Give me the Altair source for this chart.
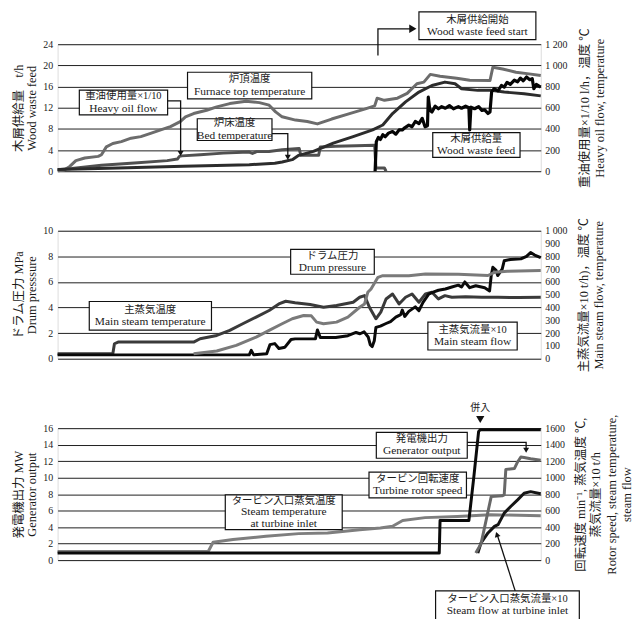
import altair as alt
import pandas as pd

# ---------------- data (hours, values) ----------------
# Panel 1 : wood waste feed (t/h, left axis)
wood_t = [7.97, 8.0, 8.05, 8.1, 8.16, 8.22, 8.3, 8.4, 8.48, 8.56, 8.64, 8.7, 8.8, 8.88, 8.96, 9.05,
          9.13, 9.2, 9.26, 9.28, 9.32, 9.37, 9.45, 9.53, 9.61, 9.7, 9.8, 9.9, 10.02, 10.1, 10.2,
          10.28, 10.3, 10.33, 10.42, 10.52, 10.6, 10.67, 10.75, 10.8, 10.84, 10.9, 11.0, 11.08,
          11.15, 11.22, 11.3, 11.4, 11.48, 11.55, 11.62, 11.7, 11.78, 11.84, 11.88, 11.94, 12.05]
wood_v = [0.0, 5.6, 6.4, 6.0, 6.9, 6.5, 7.2, 7.5, 7.0, 7.8, 7.8, 8.2, 8.7, 8.4, 9.4, 9.0,
          10.0, 8.4, 8.6, 14.0, 11.5, 11.2, 12.3, 11.8, 12.2, 11.9, 12.4, 11.8, 12.2, 11.9, 12.3,
          12.0, 7.8, 12.1, 11.8, 12.2, 11.5, 11.6, 10.9, 11.2, 15.0, 15.6, 15.2, 16.2,
          15.9, 16.8, 16.4, 17.2, 16.9, 17.6, 17.1, 17.8, 17.3, 17.5, 15.6, 16.4, 15.9]
# furnace top temperature (deg C, right axis)
furn_t = [0.15, 0.3, 0.45, 0.6, 0.82, 1.15, 1.23, 1.35, 1.51, 1.72, 1.96, 2.2, 2.44, 2.69, 2.93,
          3.17, 3.3, 3.5, 3.82, 4.07, 4.39, 4.79, 5.12, 5.36, 5.52, 5.68, 6.01, 6.3, 6.55, 6.9,
          7.3, 7.71, 7.96, 8.02, 8.2, 8.52, 8.76, 9.0, 9.17, 9.33, 9.57, 9.98, 10.3, 10.8, 10.87,
          11.11, 11.44, 11.76, 12.05]
furn_v = [5, 10, 45, 100, 125, 140, 156, 230, 262, 280, 312, 327, 358, 390, 421,
          468, 514, 545, 576, 608, 639, 661, 648, 624, 561, 514, 483, 470, 447, 493,
          540, 586, 617, 690, 670, 690, 735, 826, 842, 915, 898, 879, 860, 857, 982,
          966, 935, 920, 905]
# bed temperature (deg C, right axis)
bed_t = [0.15, 1.64, 3.25, 4.87, 5.5, 5.68, 5.93, 6.09, 6.45, 6.94, 7.43, 7.91, 8.16, 8.4, 8.72,
         9.05, 9.37, 9.69, 9.94, 10.1, 10.5, 10.83, 11.15, 11.64, 12.05]
bed_v = [16, 31, 47, 62, 75, 87, 109, 150, 187, 265, 327, 390, 437, 545, 655,
         748, 810, 842, 826, 779, 764, 764, 748, 732, 712]
# heavy oil flow x1/10 (right axis)
oil_t = [0.15, 0.5, 1.23, 2.04, 2.85, 3.1, 3.15, 3.21, 3.66, 4.23, 4.87, 4.95, 5.05, 5.36, 5.68,
         6.01, 6.1, 6.14, 6.58, 6.62, 7.0, 7.5, 7.96, 7.99, 8.2, 8.24]
oil_v = [15, 25, 56, 78, 100, 115, 140, 145, 156, 171, 181, 168, 185, 187, 203,
         212, 215, 150, 150, 228, 235, 240, 245, 30, 30, 0]

# Panel 2 : main steam temperature (deg C, right axis)
mst_t = [0.15, 1.51, 1.55, 1.64, 3.5, 3.66, 4.07, 4.39, 4.71, 5.04, 5.36, 5.6, 5.77, 6.0, 6.37,
         6.7, 7.02, 7.43, 7.59, 7.71, 7.83, 7.99, 8.11, 8.24, 8.4, 8.56, 8.72, 8.88, 9.05, 9.21,
         9.37, 9.53, 9.69, 9.86, 10.2, 10.6, 11.0, 11.5, 12.05]
mst_v = [39, 39, 117, 130, 130, 156, 182, 221, 273, 325, 377, 428, 449, 438, 423,
         402, 416, 441, 480, 493, 402, 312, 364, 467, 506, 428, 480, 506, 441, 506,
         519, 467, 493, 480, 485, 480, 480, 478, 480]
# drum pressure (MPa, left axis)
drum_t = [3.5, 4.07, 4.55, 5.04, 5.36, 5.68, 5.93, 6.21, 6.4, 6.53, 6.7, 7.02, 7.3, 7.59, 7.71,
          7.79, 7.87, 8.04, 8.16, 8.8, 9.21, 10.02, 10.75, 10.91, 11.23, 12.05]
drum_v = [0.39, 0.60, 1.04, 1.69, 2.21, 2.73, 3.12, 3.38, 3.35, 2.86, 2.73, 2.86, 3.25, 4.02, 4.28,
          5.19, 5.45, 6.36, 6.49, 6.49, 6.62, 6.6, 6.5, 6.75, 6.83, 6.9]
# main steam flow x10 (right axis)
msf_t = [0.15, 4.87, 4.92, 4.98, 5.3, 5.38, 5.5, 5.6, 5.75, 5.9, 6.0, 6.5, 6.55, 6.62, 7.0, 7.3,
         7.5, 7.6, 7.7, 7.8, 7.85, 7.9, 7.95, 7.99, 8.1, 8.24, 8.35, 8.48, 8.6, 8.64, 8.7, 8.8,
         8.96, 9.05, 9.15, 9.29, 9.4, 9.53, 9.7, 9.86, 10.02, 10.1, 10.18, 10.3, 10.45, 10.67,
         10.79, 10.83, 10.87, 10.95, 10.99, 11.1, 11.15, 11.3, 11.56, 11.7, 11.8, 11.9, 12.05]
msf_v = [30, 30, 65, 30, 39, 110, 118, 80, 90, 150, 155, 155, 225, 165, 165, 180,
         205, 195, 210, 170, 110, 95, 140, 245, 255, 275, 290, 325, 345, 380, 330, 370,
         405, 375, 440, 505, 520, 535, 545, 560, 575, 560, 600, 555, 570, 555,
         530, 650, 715, 690, 650, 700, 765, 775, 780, 800, 830, 810, 790]

# Panel 3 : turbine rotor speed (min-1, right axis)
rot_t = [0.15, 9.55, 9.57, 10.28, 10.4, 10.52, 10.56, 12.05]
rot_v = [85, 85, 480, 480, 1000, 1560, 1580, 1580]
# generator output (MW, left axis)
gen_t = [10.45, 10.58, 10.83, 11.1, 11.15, 11.19, 11.4, 11.48, 11.56, 11.64, 11.8, 12.05]
gen_v = [0.85, 2.0, 7.7, 7.8, 7.9, 11.0, 11.1, 11.9, 12.5, 12.45, 12.3, 12.1]
# steam flow at turbine inlet x10 (right axis)
sfl_t = [10.5, 10.58, 10.75, 10.91, 11.0, 11.15, 11.31, 11.48, 11.64, 11.8, 12.05]
sfl_v = [85, 209, 329, 409, 430, 570, 650, 730, 810, 830, 805]
# steam temperature at turbine inlet (deg C, right axis)
stp_t = [0.15, 3.86, 3.98, 4.47, 5.28, 6.09, 6.8, 7.59, 8.1, 8.4, 8.65, 9.2, 10.0, 10.8, 12.05]
stp_v = [105, 105, 217, 249, 289, 321, 329, 369, 389, 410, 480, 515, 530, 550, 538]

# ---------------- styling ----------------
T0, T1 = 0.15, 12.05
W = 487
FONT = "Liberation Serif, Noto Sans CJK JP, serif"
TXT = "#1a1a1a"
GRID = "#1e1e1e"

XS = alt.Scale(domain=[T0, T1], nice=False, zero=False)
XAX = alt.Axis(values=[T0, 2, 4, 6, 8, 10], labelExpr="floor(datum.value) + ':00'",
               grid=True, gridColor=GRID, gridWidth=1, ticks=False, domain=False,
               labelFont=FONT, labelFontSize=10, labelColor=TXT, labelPadding=7, title=None)


def X(axis=False, field="t"):
    return alt.X(f"{field}:Q", scale=XS, axis=XAX if axis else None, title=None)


def sdf(t, v):
    return pd.DataFrame({"t": t, "v": v, "i": list(range(len(t)))})


def left_axis(values, title, h):
    return alt.Axis(orient="left", values=values, grid=True, gridColor=GRID, gridWidth=1,
                    ticks=False, domain=False, labelFont=FONT, labelFontSize=10,
                    labelColor=TXT, labelPadding=5, title=title, titleFont=FONT,
                    titleFontSize=12.5, titleFontWeight="normal", titleColor=TXT,
                    titleAngle=270, titleBaseline="bottom", titleAlign="center",
                    titleX=-32, titleY=h / 2, titleLineHeight=13)


def right_axis(values, title, expr, h, tx, lh=15):
    return alt.Axis(orient="right", values=values, grid=False, ticks=False, domain=False,
                    labelFont=FONT, labelFontSize=10, labelColor=TXT, labelPadding=4,
                    labelExpr=expr, title=title, titleAngle=270, titleBaseline="top",
                    titleAlign="center", titleX=tx, titleY=h / 2,
                    titleFont=FONT, titleFontSize=12.5, titleFontWeight="normal",
                    titleColor=TXT, titleLineHeight=lh)


def line(t, v, color, width, dom, axis=None, xaxis=False):
    return alt.Chart(sdf(t, v)).mark_line(color=color, strokeWidth=width,
                                          strokeJoin="round").encode(
        x=X(xaxis),
        y=alt.Y("v:Q", scale=alt.Scale(domain=dom, nice=False, zero=True), axis=axis, title=None),
        order="i:Q")


def annotations(dom, boxes, arrows, heads, pin, extra=None):
    def ys(f):
        return alt.Y(f"{f}:Q", scale=alt.Scale(domain=dom, nice=False, zero=True),
                     axis=None, title=None)
    layers = []
    bdf = pd.DataFrame([b[:4] for b in boxes], columns=["t1", "t2", "v1", "v2"])
    layers.append(alt.Chart(bdf).mark_rect(fill="white", stroke="#111", strokeWidth=1.2).encode(
        x=X(field="t1"), x2="t2:Q", y=ys("v1"), y2="v2:Q"))
    groups = {}
    for b in boxes:
        tc, vc, lines, gap = b[4], b[5], b[6], b[7]
        n = len(lines)
        for j, s in enumerate(lines):
            dy = round((j - (n - 1) / 2) * gap, 2)
            size = 10.5 if j == 0 else 11.5
            groups.setdefault((dy, size), []).append({"t": tc, "v": vc, "label": s})
    for (dy, size), rows in groups.items():
        layers.append(alt.Chart(pd.DataFrame(rows)).mark_text(
            font=FONT, fontSize=size, color=TXT, baseline="middle", align="center", dy=dy).encode(
            x=X(), y=ys("v"), text="label:N"))
    if arrows:
        rows = []
        for g, pts in enumerate(arrows):
            for i, (t, v) in enumerate(pts):
                rows.append({"g": g, "i": i, "t": t, "v": v})
        layers.append(alt.Chart(pd.DataFrame(rows)).mark_line(color="#111", strokeWidth=1.3).encode(
            x=X(), y=ys("v"), detail="g:N", order="i:Q"))
    if heads:
        hdf = pd.DataFrame(heads, columns=["t", "v", "a", "s"])
        layers.append(alt.Chart(hdf).mark_point(shape="triangle-up", filled=True, color="#111",
                                                opacity=1).encode(
            x=X(), y=ys("v"), angle=alt.Angle("a:Q", scale=None),
            size=alt.Size("s:Q", scale=None)))
    if extra is not None:
        layers.append(extra(ys))
    pdf = pd.DataFrame({"t": [T0], "v1": [pin[0]], "v2": [pin[1]]})
    layers.append(alt.Chart(pdf).mark_rule(opacity=0).encode(x=X(), y=ys("v1"), y2="v2:Q"))
    return layers


def panel(layers, h):
    return alt.layer(*layers).resolve_scale(y="independent").resolve_axis(y="independent") \
        .properties(width=W, height=h)


sp_expr = ("datum.value >= 1000 ? replace(format(datum.value, ','), ',', ' ') "
           ": format(datum.value, 'd')")

# ---------------- panel 1 ----------------
H1, R1, L1 = 128, [0, 1200], [0, 24]
p1 = panel([
    line(furn_t, furn_v, "#6c6c6c", 3, R1,
         right_axis(list(range(0, 1201, 200)),
                    ["重油使用量×1/10 l/h，温度 ℃", "Heavy oil flow, temperature"], sp_expr,
                    H1, 38),
         xaxis=True),
    line(oil_t, oil_v, "#505050", 3, R1),
    line(bed_t, bed_v, "#2c2c2c", 3, R1),
    line(wood_t, wood_v, "#050505", 3.2, L1,
         left_axis(list(range(0, 25, 4)), ["木屑供給量　t/h", "Wood waste feed"], H1)),
] + annotations(
    R1,
    [[0.685, 2.86, 533, 767, 1.77, 650, ["重油使用量×1/10", "Heavy oil flow"], 12.5],
     [3.35, 6.41, 683, 935, 4.88, 809, ["炉頂温度", "Furnace top temperature"], 12.5],
     [3.59, 5.43, 290, 496, 4.51, 393, ["炉床温度", "Bed temperature"], 12.5],
     [9.05, 11.93, 1243, 1505, 10.49, 1374, ["木屑供給開始", "Wood waste feed start"], 12.5],
     [9.39, 11.54, 131, 365, 10.46, 248, ["木屑供給量", "Wood waste feed"], 12.5]],
    [[(2.86, 664), (3.18, 664), (3.18, 175)],
     [(5.43, 355), (5.82, 355), (5.82, 140)],
     [(8.04, 1094), (8.04, 1346), (8.9, 1346)]],
    [[3.18, 168, 180, 35], [5.82, 131, 180, 35], [8.9, 1346, 90, 70]],
    (-281, 0)), H1)

# ---------------- panel 2 ----------------
H2, R2, L2 = 129, [0, 1000], [0, 10]
p2 = panel([
    line(mst_t, mst_v, "#3a3a3a", 3, R2,
         right_axis(list(range(0, 1001, 100)),
                    ["主蒸気流量×10 t/h)，温度 ℃", "Main steam flow, temperature"], sp_expr,
                    H2, 37),
         xaxis=True),
    line(msf_t, msf_v, "#0a0a0a", 3, R2),
    line(drum_t, drum_v, "#7a7a7a", 3, L2,
         left_axis(list(range(0, 11, 2)), ["ドラム圧力 MPa", "Drum presssure"], H2)),
] + annotations(
    R2,
    [[0.93, 3.94, 224, 447, 2.43, 335, ["主蒸気温度", "Main steam temperature"], 12.5],
     [5.89, 7.95, 660, 854, 6.92, 757, ["ドラム圧力", "Drum pressure"], 12.5],
     [9.27, 11.47, 68, 286, 10.37, 177, ["主蒸気流量×10", "Main steam flow"], 12.5]],
    [], [], (-233, 1155)), H2)

# ---------------- panel 3 ----------------
H3, R3, L3 = 133, [0, 1600], [0, 16]


def heiny(ys):
    df = pd.DataFrame({"t": [10.56], "v": [1849], "label": ["併入"]})
    return alt.Chart(df).mark_text(font=FONT, fontSize=10, color=TXT, baseline="middle").encode(
        x=X(), y=ys("v"), text="label:N")


p3 = panel([
    line(stp_t, stp_v, "#7e7e7e", 3, R3,
         right_axis(list(range(0, 1601, 200)),
                    ["回転速度 min⁻¹, 蒸気温度 ℃,", "蒸気流量×10 t/h",
                     "Rotor speed, steam temperature,", "steam flow"],
                    "format(datum.value, 'd')", H3, 34, lh=15.5),
         xaxis=True),
    line(rot_t, rot_v, "#0a0a0a", 3, R3),
    line(sfl_t, sfl_v, "#151515", 3, R3),
    line(gen_t, gen_v, "#686868", 3, L3,
         left_axis(list(range(0, 17, 2)), ["発電機出力 MW", "Generator output"], H3)),
] + annotations(
    R3,
    [[8.0, 10.24, 1235, 1549, 9.12, 1392, ["発電機出力", "Generator output"], 12.5],
     [7.82, 10.22, 754, 1067, 9.02, 910, ["タービン回転速度", "Turbine rotor speed"], 12.5],
     [4.28, 7.16, 369, 790, 5.72, 580, ["タービン入口蒸気温度", "Steam temperature",
                                         "at turbine inlet"], 11.5],
     [9.46, 13.0, -880, -373, 11.23, -541, ["タービン入口蒸気流量×10",
                                           "Steam flow at turbine inlet"], 12]],
    [[(10.24, 1428), (11.69, 1428), (11.69, 1340)],
     [(11.42, -373), (10.97, 320)]],
    [[11.69, 1332, 180, 35], [10.97, 310, 342, 35], [10.56, 1705, 180, 70]],
    (0, 1960), extra=heiny), H3)

chart = alt.vconcat(p1, p2, p3, spacing=8).properties(
    padding={"left": 4, "top": 0, "right": 0, "bottom": 0}
).configure_view(stroke="#111", strokeWidth=1.3).configure(background="white")

chart.save("out.html", embed_options={"renderer": "svg", "actions": False})
